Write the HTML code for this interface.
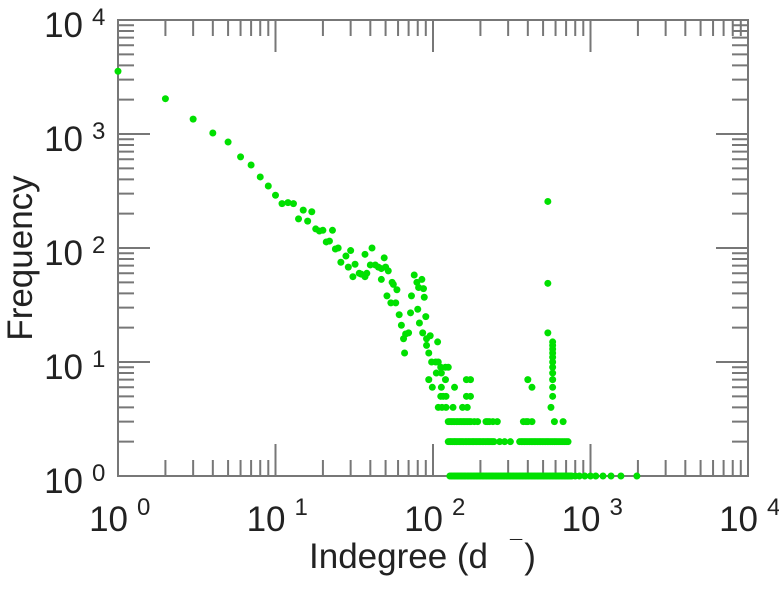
<!DOCTYPE html>
<html><head><meta charset="utf-8"><style>
body{margin:0;background:#fff;}
svg{display:block;font-family:"Liberation Sans",Arial,sans-serif;}
</style></head><body>
<svg id="chart" width="779" height="600" viewBox="0 0 779 600" xmlns="http://www.w3.org/2000/svg">
<g id="axes"></g>
<g id="points"></g>
<g id="labels"></g>
<text x="309" y="568" font-size="35" fill="#222">Indegree (d<tspan dx="22" dy="-12" font-size="22">¯</tspan><tspan dx="2" dy="12">)</tspan></text>
<text transform="translate(32,258) rotate(-90)" text-anchor="middle" font-size="35" fill="#222">Frequency</text>
</svg>
<script>
// data (degree, frequency)
const degrees = [1,2,3,4,5,6,7,8,9,10,11,12,13,14,15,16,17,18,19,20,21,22,23,24,25,26,28,29,30,31,32,34,35,37,37,38,40,41,43,45,47,47,49,50,51,52,54,55,56,58,59,61,63,65,66,67,70,72,73,76,79,81,85,87,88,80,82,86,90,91,91,94,96,107,98,104,108,105,112,120,125,113,94,99,113,120,137,163,173,
112,116,121,163,173,108,114,121,134,154,165,561,
125,128,131,134,137,141,144,148,151,155,158,162,166,170,174,183,192,217,222,228,240,256,375,390,400,425,590,670,
125,128,130,133,136,138,141,144,147,150,153,156,160,163,167,170,174,178,181,185,189,193,197,201,206,210,215,220,224,229,234,239,244,265,285,310,355,364,372,381,390,400,410,420,430,440,450,461,472,483,495,507,520,532,545,560,575,590,605,622,640,660,680,700,720,
128,131,134,137,140,143,146,149,152,155,158,161,165,168,172,176,180,184,188,192,196,200,205,209,214,219,224,229,234,239,244,250,255,261,267,273,279,285,292,298,305,311,318,325,332,340,347,355,362,370,378,387,395,404,413,422,431,440,450,460,470,480,491,502,513,524,536,548,560,572,585,598,611,624,638,652,667,682,697,712,728,744,760,800,850,920,1000,1080,1200,1350,1560,1970,
536,536,536,575,575,575,575,575,575,575,575,575,575,575,400,425];
const freqs = [3550,2040,1350,1020,850,630,535,420,350,290,245,250,245,180,215,172,208,147,141,143,113,115,143,98,100,75,85,68,95,56,72,60,59,56,88,60,71,100,71,68,53,66,82,68,38,63,33,50,48,33,43,26,21,16,12,17.6,18,27,38,58,50,45,53,44,37,29,22,18,25,16,14,12,17,15,10,10,10,8,9,9,9,8,7,6,6,7,6,7,7,
5,5,5,5,5,4,4,4,4,4,4,4,
3,3,3,3,3,3,3,3,3,3,3,3,3,3,3,3,3,3,3,3,3,3,3,3,3,3,3,3,
2,2,2,2,2,2,2,2,2,2,2,2,2,2,2,2,2,2,2,2,2,2,2,2,2,2,2,2,2,2,2,2,2,2,2,2,2,2,2,2,2,2,2,2,2,2,2,2,2,2,2,2,2,2,2,2,2,2,2,2,2,2,2,2,2,
1,1,1,1,1,1,1,1,1,1,1,1,1,1,1,1,1,1,1,1,1,1,1,1,1,1,1,1,1,1,1,1,1,1,1,1,1,1,1,1,1,1,1,1,1,1,1,1,1,1,1,1,1,1,1,1,1,1,1,1,1,1,1,1,1,1,1,1,1,1,1,1,1,1,1,1,1,1,1,1,1,1,1,1,1,1,1,1,1,1,1,1,
256,49,18,15,14,13,12,11,10,9,8,7,6,5,7,6];
const xTickExps = [0,1,2,3,4];
const yTickExps = [0,1,2,3,4];

const NS="http://www.w3.org/2000/svg";
const L=118,R=748,T=20,B=476;
const xScale=v=>L+(Math.log10(v)-0)/4*(R-L);
const yScale=v=>B-(Math.log10(v)-0)/4*(B-T);
function mk(tag,attrs,parent){const e=document.createElementNS(NS,tag);for(const k in attrs)e.setAttribute(k,attrs[k]);parent.appendChild(e);return e;}
const axes=document.getElementById('axes');
const frame=mk('rect',{x:L,y:T,width:R-L,height:B-T,fill:'none',stroke:'#777','stroke-width':2},axes);


for(let e=0;e<4;e++){for(let m=1;m<10;m++){
  const v=m*Math.pow(10,e);const len=m===1?32:16;
  const x=xScale(v),y=yScale(v);
  const t1=mk('path',{d:`M${x},${B}V${B-len}M${x},${T}V${T+len}`,stroke:'#777','stroke-width':2},axes);
  
  
  const t2=mk('path',{d:`M${L},${y}H${L+len}M${R},${y}H${R-len}`,stroke:'#777','stroke-width':2},axes);
  
  
}}
const labels=document.getElementById('labels');
xTickExps.forEach(k=>{
  const x=xScale(Math.pow(10,k));
  const t=mk('text',{x:x+10,y:531,'text-anchor':'end','font-size':35,fill:'#222'},labels);
  t.textContent='10';
  
  
  const s=mk('text',{x:x+19,y:515,'font-size':24,fill:'#222'},labels);
  s.textContent=String(k);
  
  
});
yTickExps.forEach(k=>{
  const y=yScale(Math.pow(10,k));
  const t=mk('text',{x:83,y:y+17,'text-anchor':'end','font-size':35,fill:'#222'},labels);
  t.textContent='10';
  
  
  const s=mk('text',{x:92,y:y+5,'font-size':24,fill:'#222'},labels);
  s.textContent=String(k);
  
  
});
const pts=document.getElementById('points');
degrees.forEach((d,i)=>{
  const c=mk('circle',{cx:xScale(d),cy:yScale(freqs[i]),r:3.5,fill:'#00e000'},pts);
  
  
});
</script>
</body></html>
